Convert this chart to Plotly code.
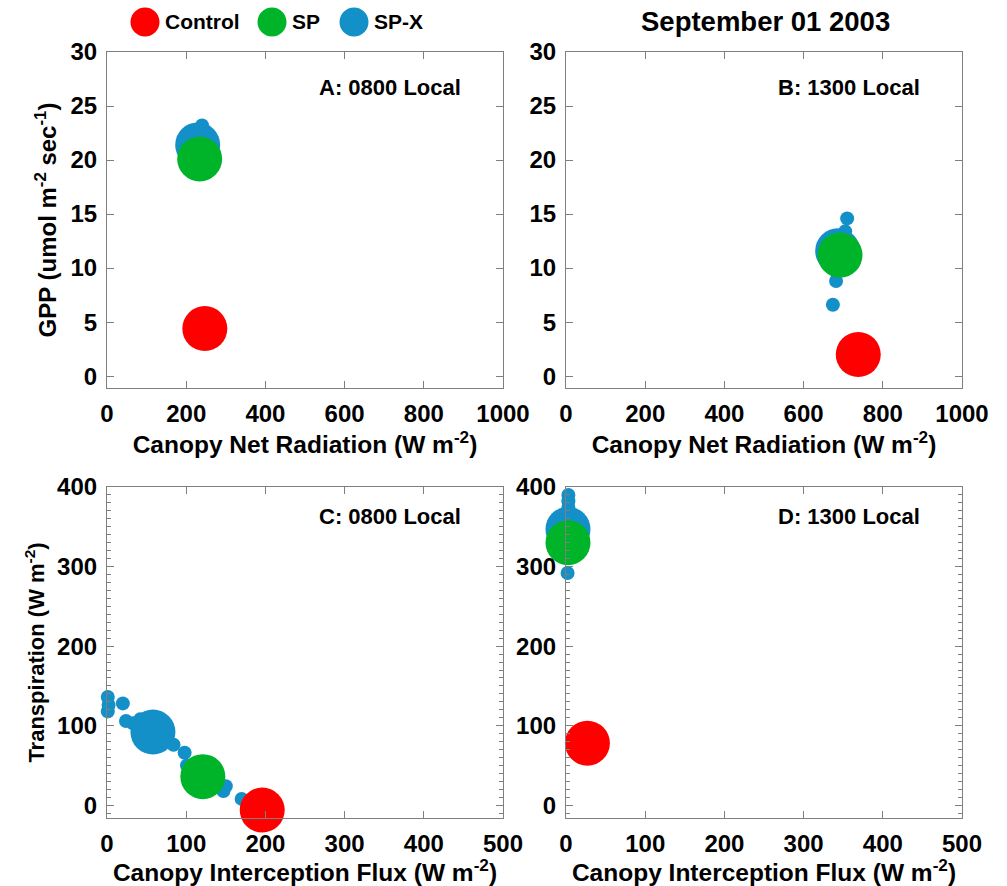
import plotly.graph_objects as go

# ---------------- data ----------------
series_names = ["Control", "SP", "SP-X"]
panel_labels = ["A: 0800 Local", "B: 1300 Local", "C: 0800 Local", "D: 1300 Local"]
title_text = "September 01 2003"

# Panel A: GPP vs canopy net radiation, 0800
a_ctrl_x = [247]; a_ctrl_y = [4.4]
a_sp_x = [234];   a_sp_y = [20.1]
a_spx_mean_x = [229]; a_spx_mean_y = [21.4]
a_spx_x = [240, 234, 224]
a_spx_y = [23.2, 22.4, 20.8]

# Panel B: GPP vs canopy net radiation, 1300
b_ctrl_x = [738]; b_ctrl_y = [2.0]
b_sp_x = [692];   b_sp_y = [11.2]
b_spx_mean_x = [686]; b_spx_mean_y = [11.6]
b_spx_x = [710, 705, 700, 684, 684, 682, 674]
b_spx_y = [14.6, 13.4, 12.8, 12.0, 9.6, 8.8, 6.6]

# Panel C: transpiration vs interception flux, 0800
c_ctrl_x = [196]; c_ctrl_y = [-6]
c_sp_x = [121];   c_sp_y = [36]
c_spx_mean_x = [58]; c_spx_mean_y = [92]
c_spx_x = [1, 2, 1, 20, 24, 33, 42, 48, 62, 70, 76, 84, 98, 101, 147, 170, 150]
c_spx_y = [136, 126, 118, 128, 106, 103, 108, 82, 104, 98, 82, 76, 66, 50, 18, 8, 24]

# Panel D: transpiration vs interception flux, 1300
d_ctrl_x = [27];  d_ctrl_y = [78]
d_sp_x = [2.5];   d_sp_y = [330]
d_spx_mean_x = [2.5]; d_spx_mean_y = [347]
d_spx_x = [3, 3, 3, 3, 2]
d_spx_y = [390, 382, 374, 364, 292]

top_xticks = [0, 200, 400, 600, 800, 1000]
top_yticks = [0, 5, 10, 15, 20, 25, 30]
bot_xticks = [0, 100, 200, 300, 400, 500]
bot_yticks = [0, 100, 200, 300, 400]

# ---------------- style ----------------
RED = "#FF0000"
GREEN = "#00B42A"
BLUE = "#1490C8"
BIG = 45
SMALL = 14
FONT = "Liberation Sans, Arial, Helvetica, sans-serif"
AXC = "#7f7f7f"

W, H = 1007, 886

def px_x(p):
    return p / W

def px_y(p):
    return 1 - p / H

fig = go.Figure()

panels = [
    ("x", "y", a_ctrl_x, a_ctrl_y, a_sp_x, a_sp_y, a_spx_mean_x, a_spx_mean_y, a_spx_x, a_spx_y),
    ("x2", "y2", b_ctrl_x, b_ctrl_y, b_sp_x, b_sp_y, b_spx_mean_x, b_spx_mean_y, b_spx_x, b_spx_y),
    ("x3", "y3", c_ctrl_x, c_ctrl_y, c_sp_x, c_sp_y, c_spx_mean_x, c_spx_mean_y, c_spx_x, c_spx_y),
    ("x4", "y4", d_ctrl_x, d_ctrl_y, d_sp_x, d_sp_y, d_spx_mean_x, d_spx_mean_y, d_spx_x, d_spx_y),
]

for xa, ya, cx, cy, sx, sy, mx, my, px, py in panels:
    fig.add_trace(go.Scatter(x=px, y=py, xaxis=xa, yaxis=ya, mode="markers",
                             marker=dict(color=BLUE, size=SMALL, line=dict(width=0)),
                             name=series_names[2], showlegend=False, cliponaxis=False))
    fig.add_trace(go.Scatter(x=mx, y=my, xaxis=xa, yaxis=ya, mode="markers",
                             marker=dict(color=BLUE, size=BIG, line=dict(width=0)),
                             name=series_names[2], showlegend=False, cliponaxis=False))
    fig.add_trace(go.Scatter(x=sx, y=sy, xaxis=xa, yaxis=ya, mode="markers",
                             marker=dict(color=GREEN, size=BIG, line=dict(width=0)),
                             name=series_names[1], showlegend=False, cliponaxis=False))
    fig.add_trace(go.Scatter(x=cx, y=cy, xaxis=xa, yaxis=ya, mode="markers",
                             marker=dict(color=RED, size=BIG, line=dict(width=0)),
                             name=series_names[0], showlegend=False, cliponaxis=False))

tickfont = dict(family=FONT, size=24, color="black", weight="bold")
xtitlefont = dict(family=FONT, size=24.5, color="black", weight="bold")
gpptitlefont = dict(family=FONT, size=24, color="black", weight="bold")
trtitlefont = dict(family=FONT, size=22, color="black", weight="bold")

xl = [px_x(107), px_x(503)]
xr = [px_x(566), px_x(962)]
yt = [px_y(388), px_y(52)]
yb = [px_y(818), px_y(487)]

def axis(domain, rng, ticks, anchor, title=None, tfont=None, minor=None):
    d = dict(domain=domain, range=rng, tickvals=ticks, ticktext=[str(t) for t in ticks],
             showgrid=False, zeroline=False, showline=True, linecolor=AXC, linewidth=1.2,
             mirror="ticks", ticks="inside", ticklen=7, tickcolor=AXC, tickwidth=1.2,
             tickfont=tickfont, anchor=anchor, ticklabelstandoff=4, automargin=False)
    if title:
        d["title"] = dict(text=title, font=tfont, standoff=6)
    if minor:
        d["minor"] = dict(dtick=minor, ticks="inside", ticklen=4, tickcolor=AXC, tickwidth=1)
    return d

xt_title = "Canopy Net Radiation (W m<sup>-2</sup>)"
xb_title = "Canopy Interception Flux (W m<sup>-2</sup>)"
y_top_title = "GPP (umol m<sup>-2</sup> sec<sup>-1</sup>)"
y_bot_title = "Transpiration (W m<sup>-2</sup>)"

fig.update_layout(
    width=W, height=H,
    margin=dict(l=0, r=0, t=0, b=0, autoexpand=False),
    paper_bgcolor="white", plot_bgcolor="white",
    showlegend=False,
    xaxis=axis(xl, [0, 1000], top_xticks, "y", xt_title, xtitlefont),
    yaxis=axis(yt, [-1.1, 30], top_yticks, "x", y_top_title, gpptitlefont),
    xaxis2=axis(xr, [0, 1000], top_xticks, "y2", xt_title, xtitlefont),
    yaxis2=axis(yt, [-1.1, 30], top_yticks, "x2"),
    xaxis3=axis(xl, [0, 500], bot_xticks, "y3", xb_title, xtitlefont),
    yaxis3=axis(yb, [-16, 400], bot_yticks, "x3", y_bot_title, trtitlefont, minor=10),
    xaxis4=axis(xr, [0, 500], bot_xticks, "y4", xb_title, xtitlefont),
    yaxis4=axis(yb, [-16, 400], bot_yticks, "x4", minor=10),
)

# panel labels
label_refs = [("x", "y", 0.105), ("x2", "y2", 0.105), ("x3", "y3", 0.09), ("x4", "y4", 0.09)]
for (xa, ya, dy), lab in zip(label_refs, panel_labels):
    fig.add_annotation(text=lab, xref=xa + " domain", yref=ya + " domain",
                       x=0.9, y=1 - dy, xanchor="right", yanchor="middle", showarrow=False,
                       font=dict(family=FONT, size=22, color="black", weight="bold"))

# title
fig.add_annotation(text=title_text, xref="paper", yref="paper", x=px_x(765), y=px_y(22),
                   xanchor="center", yanchor="middle", showarrow=False,
                   font=dict(family=FONT, size=27.5, color="black", weight="bold"))

# custom legend (large circles)
leg_colors = [RED, GREEN, BLUE]
leg_cx = [145, 272, 354]
r = 14.5
for name, col, cxp in zip(series_names, leg_colors, leg_cx):
    fig.add_shape(type="circle", xref="paper", yref="paper",
                  x0=px_x(cxp - r), x1=px_x(cxp + r), y0=px_y(22 + r), y1=px_y(22 - r),
                  fillcolor=col, line=dict(width=0))
    fig.add_annotation(text=name, xref="paper", yref="paper", x=px_x(cxp + r + 3), y=px_y(22),
                       xanchor="left", yanchor="middle", showarrow=False,
                       font=dict(family=FONT, size=21, color="black", weight="bold"))

fig.write_html("out.html")
